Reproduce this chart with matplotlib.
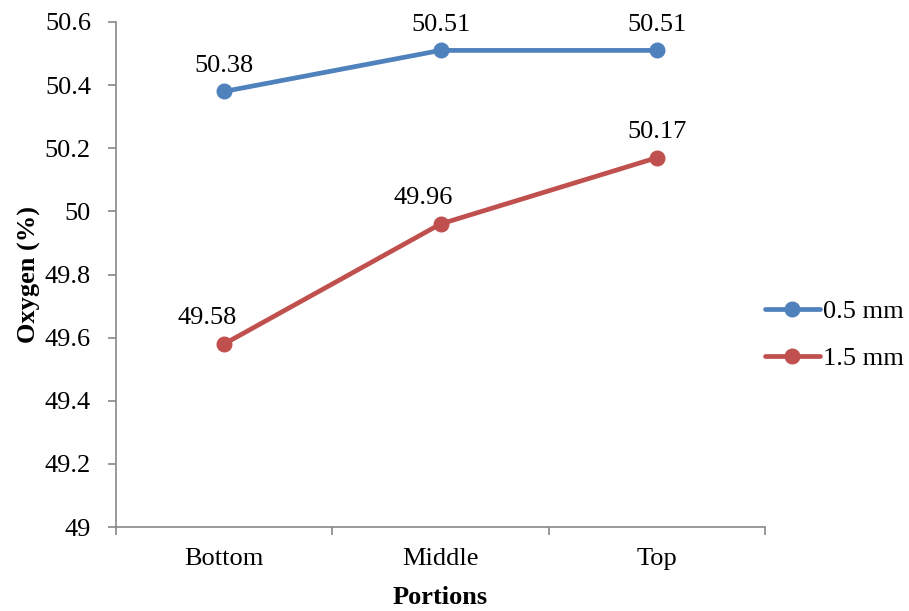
import matplotlib
matplotlib.use("Agg")
import matplotlib.pyplot as plt

categories = ["Bottom", "Middle", "Top"]
oxygen_05 = [50.38, 50.51, 50.51]
oxygen_15 = [49.58, 49.96, 50.17]
series_names = ["0.5 mm", "1.5 mm"]
yticks = [49, 49.2, 49.4, 49.6, 49.8, 50, 50.2, 50.4, 50.6]
ytick_labels = ["49", "49.2", "49.4", "49.6", "49.8", "50", "50.2", "50.4", "50.6"]

plt.rcParams["font.family"] = ["Liberation Serif", "DejaVu Serif"]
FS = 19

fig = plt.figure(figsize=(9.09, 6.11), dpi=100)
ax = fig.add_axes([116 / 909, 1 - 527 / 611, (765 - 116) / 909, (527 - 22) / 611])

x = [0.5, 1.5, 2.5]
colors = ["#4F81BD", "#C0504D"]
label_dx = [[0, 0, 0], [-17, -17, 0]]

for i, (vals, c, name) in enumerate(zip([oxygen_05, oxygen_15], colors, series_names)):
    ax.plot(x, vals, color=c, lw=3.4, marker="o", ms=10.5, label=name,
            solid_capstyle="round")
    for j, (xi, v) in enumerate(zip(x, vals)):
        ax.annotate(f"{v:.2f}", (xi, v), xytext=(label_dx[i][j] * 0.72, 18.5),
                    textcoords="offset points", ha="center", va="center",
                    fontsize=FS)

ax.set_xlim(0, 3)
ax.set_ylim(49, 50.6)
ax.set_yticks(yticks)
ax.set_yticklabels(ytick_labels)
ax.set_xticks([0, 1, 2, 3])
ax.set_xticklabels([])
ax.set_xticks(x, minor=True)
ax.set_xticklabels(categories, minor=True)
ax.tick_params(axis="x", which="minor", length=0, labelsize=FS, pad=15)
ax.tick_params(axis="x", which="major", length=6, color="#878787", width=1.2)
ax.tick_params(axis="y", length=6, color="#878787", width=1.2, labelsize=FS, pad=12)

for s in ["top", "right"]:
    ax.spines[s].set_visible(False)
for s in ["left", "bottom"]:
    ax.spines[s].set_color("#878787")
    ax.spines[s].set_linewidth(1.2)

ax.set_xlabel("Portions", fontsize=FS, fontweight="bold", labelpad=12)
ax.set_ylabel("Oxygen (%)", fontsize=FS, fontweight="bold", labelpad=3)

fig.legend(loc="center left", bbox_to_anchor=(754 / 909, 1 - 335 / 611),
           frameon=False, fontsize=FS, handlelength=2.1, handletextpad=0.1,
           labelspacing=0.9, borderaxespad=0)

fig.savefig("out.png", dpi=100)
